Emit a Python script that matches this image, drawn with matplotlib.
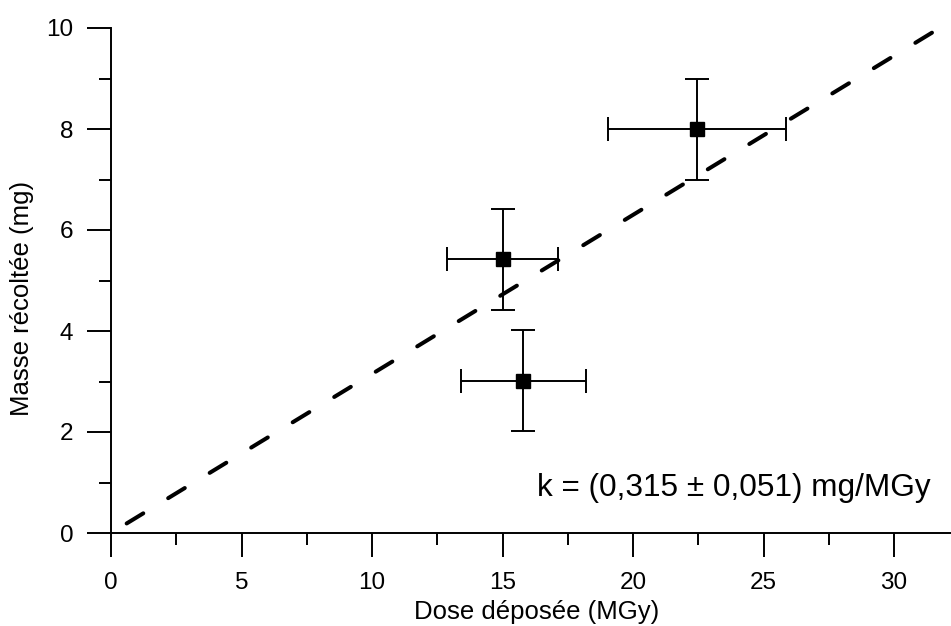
import matplotlib
matplotlib.use("Agg")
import matplotlib.pyplot as plt
import numpy as np
from matplotlib.ticker import MultipleLocator

# Data
dose = [22.45, 15.0, 15.8]
dose_err = [3.4, 2.13, 2.4]
masse = [8.0, 5.42, 3.01]
masse_err = [1.0, 1.0, 1.0]
k_slope = 0.315
fit_x = [0.6, 10 / 0.315]

plt.rcParams['font.family'] = ['Liberation Sans', 'DejaVu Sans']
plt.rcParams['lines.scale_dashes'] = False

fig = plt.figure(figsize=(9.51, 6.26), dpi=100)
ax = fig.add_axes([111/951, 93/626, (951-111)/951, (533-28)/626])

fx = np.array(fit_x)
ax.plot(fx, k_slope * fx, color='black', lw=2.9, ls=(0, (14, 21)),
        dash_capstyle='round', zorder=2)

ax.errorbar(dose, masse, xerr=dose_err, yerr=masse_err, fmt='s', color='black',
            ms=9.5, elinewidth=1.4, capsize=8.4, capthick=1.4, zorder=3)

ax.set_xlim(0, 32.18)
ax.set_ylim(0, 10)
ax.xaxis.set_major_locator(MultipleLocator(5))
ax.xaxis.set_minor_locator(MultipleLocator(2.5))
ax.yaxis.set_major_locator(MultipleLocator(2))
ax.yaxis.set_minor_locator(MultipleLocator(1))

for s in ['top', 'right']:
    ax.spines[s].set_visible(False)
for s in ['left', 'bottom']:
    ax.spines[s].set_linewidth(1.4)

ax.tick_params(which='major', length=17, width=1.4, direction='out', labelsize=17.5)
ax.tick_params(which='minor', length=8.6, width=1.4, direction='out')
ax.tick_params(axis='x', which='major', pad=11)
ax.tick_params(axis='y', which='major', pad=10)

ax.set_xlabel('Dose déposée (MGy)', fontsize=18.5)
ax.xaxis.set_label_coords(0.507, -0.132)
ax.set_ylabel('Masse récoltée (mg)', fontsize=18.5)
ax.yaxis.set_label_coords(-0.092, 0.465)

t = fig.text(537 / 951, 1 - 488 / 626, 'k = (0,315 ± 0,051) mg/MGy', fontsize=22.7,
             ha='left', va='center')

fig.savefig('out.png', dpi=100, facecolor='white')
